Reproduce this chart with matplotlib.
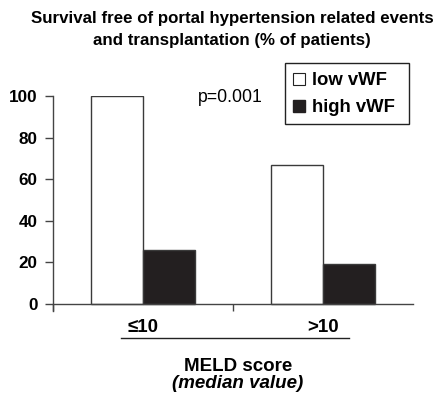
import matplotlib
matplotlib.use("Agg")
import matplotlib.pyplot as plt
import matplotlib.transforms as mtransforms
from matplotlib.lines import Line2D
from matplotlib.patches import Rectangle

categories = ["≤10", ">10"]
low_vwf = [100, 67]
high_vwf = [26, 19]
series_names = ["low vWF", "high vWF"]
yticks = [0, 20, 40, 60, 80, 100]

plt.rcParams['font.family'] = ['Liberation Sans', 'DejaVu Sans']

W, H = 436, 394
fig = plt.figure(figsize=(W/100, H/100), dpi=100)
ax = fig.add_axes([53/W, 1-311/H, 360/W, 215/H])

centers = [0.5, 1.5]
bw = 0.29
edge = '#3a3a3a'
ax.bar([c - bw/2 for c in centers], low_vwf, width=bw, color='white', edgecolor=edge, linewidth=1.0)
ax.bar([c + bw/2 for c in centers], high_vwf, width=bw, color='#231f20', edgecolor=edge, linewidth=1.0)

ax.set_xlim(0, 2)
ax.set_ylim(-3.4, 100)
for s in ['top', 'right']:
    ax.spines[s].set_visible(False)
ax.spines['bottom'].set_position(('data', 0))
for s in ['left', 'bottom']:
    ax.spines[s].set_color('#444444')
    ax.spines[s].set_linewidth(1.0)
ax.spines['left'].set_bounds(-3.4, 100)

ax.set_yticks(yticks)
ax.set_yticklabels([str(v) for v in yticks], fontsize=12.3, fontweight='bold')
ax.set_xticks([0, 1])
ax.set_xticklabels([])
ax.tick_params(axis='y', length=6, width=1.0, color='#444444', pad=5)
ax.tick_params(axis='x', length=5, width=1.0, color='#444444')

blend = mtransforms.blended_transform_factory(ax.transData, fig.transFigure)
for c, lab in zip(centers, categories):
    ax.text(c, 1-332/H, lab, ha='center', va='baseline', fontsize=13.5, fontweight='bold',
            transform=blend, clip_on=False)

fig.add_artist(Line2D([121/W, 349/W], [1-338/H, 1-338/H], color='#222222', linewidth=1.0))
fig.text(238/W, 1-371/H, "MELD score", ha='center', va='baseline', fontsize=13.5, fontweight='bold')
fig.text(238/W, 1-388/H, "(median value)", ha='center', va='baseline', fontsize=13.5, fontweight='bold', style='italic')

fig.text(232/W, 1-23/H, "Survival free of portal hypertension related events", ha='center', va='baseline', fontsize=12.2, fontweight='bold')
fig.text(232/W, 1-45/H, "and transplantation (% of patients)", ha='center', va='baseline', fontsize=12.2, fontweight='bold')

fig.text(230/W, 1-102/H, "p=0.001", ha='center', va='baseline', fontsize=12.7)

handles = [Line2D([], [], linestyle='none', marker='s', markersize=8.5, markerfacecolor='white', markeredgecolor='#222222', markeredgewidth=0.8),
           Line2D([], [], linestyle='none', marker='s', markersize=8.5, markerfacecolor='#231f20', markeredgecolor='#231f20')]
leg = fig.legend(handles, series_names, loc='upper left', bbox_to_anchor=(292/W, 1-72/H),
                 frameon=False, handlelength=0.8, handletextpad=0.3,
                 borderpad=0, labelspacing=0.55, borderaxespad=0, prop={'weight': 'bold', 'size': 13.3})
fig.add_artist(Rectangle((285/W, 1-124/H), 124/W, 61/H, transform=fig.transFigure,
                         facecolor='none', edgecolor='#222222', linewidth=1.0))

fig.savefig("out.png", dpi=100)
